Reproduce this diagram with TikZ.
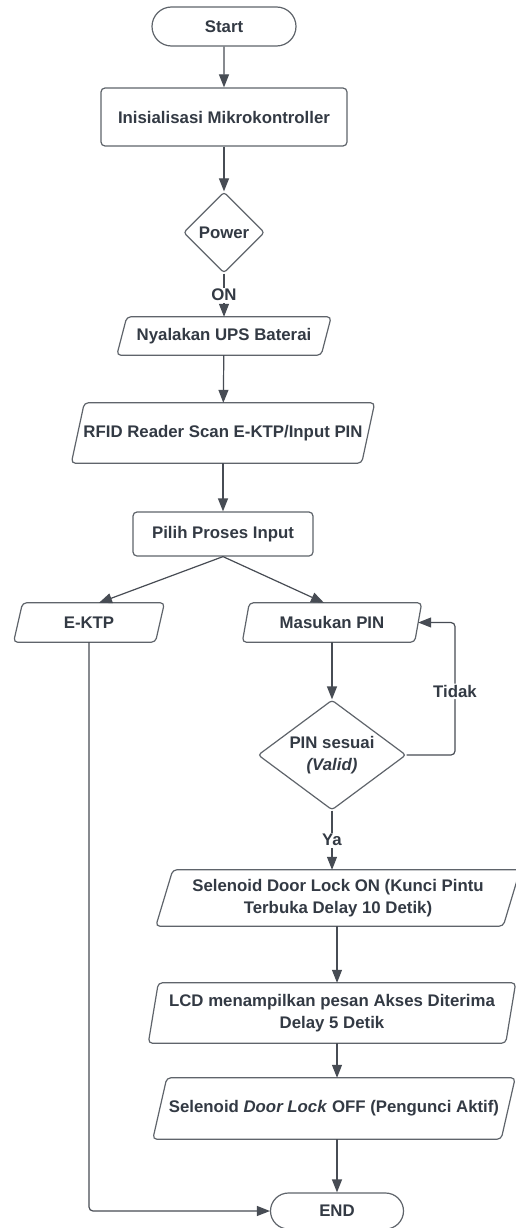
\documentclass[tikz,border=0pt]{standalone}
\usepackage{fontspec}
\setmainfont{Liberation Sans}
\usetikzlibrary{arrows.meta,shapes.geometric,shapes.misc,calc}
\definecolor{txt}{HTML}{333A44}
\definecolor{edge}{HTML}{5F646B}
\definecolor{conn}{HTML}{474C54}
\newcommand{\iopath}[2]{\draw[boxline] ([xshift=#2pt]#1.north west) -- ([xshift=#2pt]#1.north east) -- ([xshift=-#2pt]#1.south east) -- ([xshift=-#2pt]#1.south west) -- cycle;}
\tikzset{
  base/.style={font=\fontsize{16.8}{21.5}\selectfont\bfseries, text=txt, align=center, inner sep=0pt},
  boxline/.style={draw=edge, line width=1.2pt, rounded corners=4pt},
  term/.style={base, rounded rectangle, draw=edge, line width=1.2pt},
  proc/.style={base, rectangle, draw=edge, line width=1.2pt, rounded corners=4pt},
  iobox/.style={base, rectangle},
  dec/.style={base, diamond, draw=edge, line width=1.2pt, rounded corners=3pt},
  flow/.style={draw=conn, line width=1.2pt, -{Triangle[length=13pt,width=10pt]}},
  lbl/.style={base, fill=white, inner sep=1.5pt}
}
\begin{document}
\begin{tikzpicture}[x=1pt,y=-1pt]
\fill[white] (0,0) rectangle (515,1228);
\useasboundingbox (0,0) rectangle (515,1228);

\node[term, minimum width=144, minimum height=39] (start) at (224,26.5) {Start};
\node[proc, minimum width=246, minimum height=58] (init) at (224,117) {Inisialisasi Mikrokontroller};
\node[dec, minimum width=81, minimum height=81] (power) at (224,232.5) {Power};
\node[iobox, minimum width=204, minimum height=38] (ups) at (224,336) {Nyalakan UPS Baterai};
\node[iobox, minimum width=290, minimum height=60] (rfid) at (223,433) {RFID Reader Scan E-KTP/Input PIN};
\node[proc, minimum width=180, minimum height=44] (pilih) at (223,534) {Pilih Proses Input};
\node[iobox, minimum width=141.5, minimum height=39] (ektp) at (89,622.5) {E-KTP};
\node[iobox, minimum width=172, minimum height=39] (pin) at (332,622.5) {Masukan PIN};
\node[dec, aspect=1.35, minimum width=148, minimum height=110] (valid) at (332,755) {PIN sesuai\\\textit{(Valid)}};
\node[iobox, minimum width=347, minimum height=56] (sol) at (338,898) {Selenoid Door Lock ON (Kunci Pintu\\Terbuka Delay 10 Detik)};
\node[iobox, minimum width=357, minimum height=60] (lcd) at (332,1013) {LCD menampilkan pesan Akses Diterima\\Delay 5 Detik};
\node[iobox, minimum width=348, minimum height=61] (off) at (334,1108.5) {Selenoid \textit{Door Lock} OFF (Pengunci Aktif)};
\node[term, minimum width=133, minimum height=36] (end) at (337,1211) {END};

\iopath{ups}{5}
\iopath{rfid}{6.5}
\iopath{ektp}{4.5}
\iopath{pin}{3.5}
\iopath{sol}{8.5}
\iopath{lcd}{5}
\iopath{off}{7}

\coordinate (loop) at (455,755);

\draw[flow] (start) -- (init);
\draw[flow] (init) -- (power);
\draw[flow] (power) -- node[lbl]{ON} (ups);
\draw[flow] (ups) -- (rfid);
\draw[flow] (rfid) -- (pilih);
\draw[flow] (pilih.south) -- ([xshift=10pt]ektp.north);
\draw[flow] (pilih.south) -- ([xshift=-8pt]pin.north);
\draw[flow] (pin) -- (valid);
\draw[flow, rounded corners=4pt] (valid.east) -- (loop) |- node[lbl, pos=0.24]{Tidak} (pin.east);
\draw[flow] (valid.south) -- node[lbl]{Ya} (valid.south |- sol.north);
\draw[flow] (sol.south -| end) -- (lcd.north -| end);
\draw[flow] (lcd.south -| end) -- (off.north -| end);
\draw[flow] (off.south -| end) -- (end.north);
\draw[flow, rounded corners=4pt] (ektp.south) |- (end.west);
\end{tikzpicture}
\end{document}
